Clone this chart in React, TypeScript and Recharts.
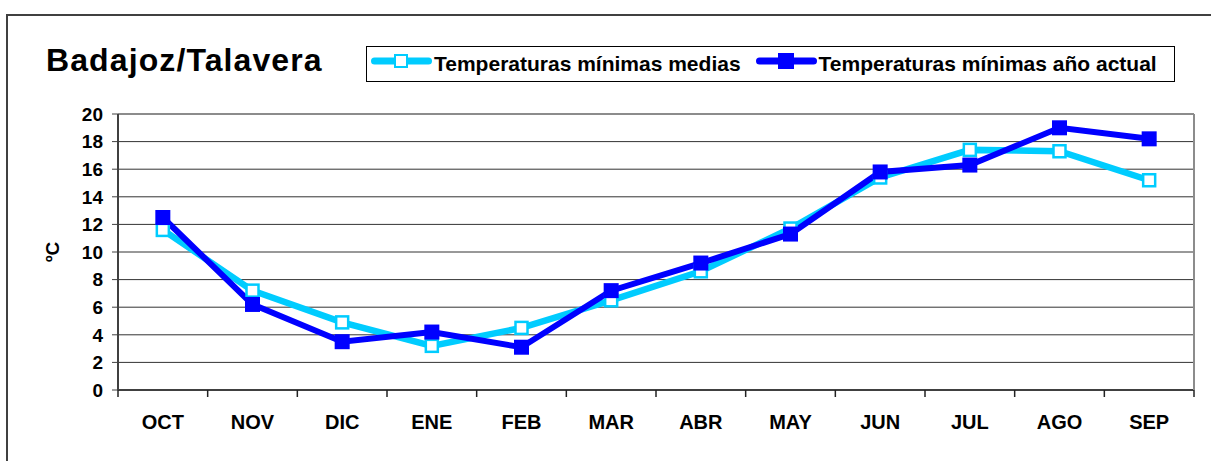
import React from 'react';
import { LineChart, Line, XAxis, YAxis, CartesianGrid, ReferenceLine, Legend } from 'recharts';

const MONTHS = ['OCT', 'NOV', 'DIC', 'ENE', 'FEB', 'MAR', 'ABR', 'MAY', 'JUN', 'JUL', 'AGO', 'SEP'];
const MEDIAS = [11.6, 7.2, 4.9, 3.2, 4.5, 6.5, 8.6, 11.7, 15.4, 17.4, 17.3, 15.2];
const ACTUAL = [12.5, 6.2, 3.5, 4.2, 3.1, 7.2, 9.2, 11.3, 15.8, 16.3, 19.0, 18.2];
const Y_TICKS = [0, 2, 4, 6, 8, 10, 12, 14, 16, 18, 20];
const SERIES_ORDER = ['medias', 'actual'];

const LIGHT = '#00CCFF';
const DARK = '#0000FF';
const FONT = '"Liberation Sans", Arial, sans-serif';
const X_TICK_MARGIN = 25;

const data = MONTHS.map((month, i) => ({ month, medias: MEDIAS[i], actual: ACTUAL[i] }));

// hollow square marker for the long-term average
const HollowSquare = (props: any) => {
  const { cx, cy, index } = props;
  if (cx == null || cy == null) return <g key={index} />;
  return <rect key={index} x={cx - 6} y={cy - 6} width={12} height={12} fill="#fff" stroke={LIGHT} strokeWidth={2.5} />;
};

const FilledSquare = (props: any) => {
  const { cx, cy, index } = props;
  if (cx == null || cy == null) return <g key={index} />;
  return <rect key={index} x={cx - 7.5} y={cy - 7.5} width={15} height={15} fill={DARK} />;
};

// month label plus the Excel-style tick marks sitting between categories
const MonthTick = (props: any) => {
  const { x, y, payload, index, visibleTicksCount } = props;
  const half = payload.offset || 0;
  const axisY = y - X_TICK_MARGIN;
  const last = index === (visibleTicksCount ?? MONTHS.length) - 1;
  return (
    <g>
      <line x1={x - half} x2={x - half} y1={axisY} y2={axisY + 7} stroke="#222" strokeWidth={1.5} />
      {last && <line x1={x + half} x2={x + half} y1={axisY} y2={axisY + 7} stroke="#222" strokeWidth={1.5} />}
      <text x={x} y={y} dy="0.71em" textAnchor="middle" fontSize={20} fontWeight="bold" fill="#000" fontFamily={FONT}>
        {payload.value}
      </text>
    </g>
  );
};

const LegendIcon = ({ color, hollow }: { color: string; hollow: boolean }) => (
  <svg width={61} height={20} style={{ display: 'block', position: 'relative', top: -3 }}>
    <line x1={3.5} y1={10} x2={57.5} y2={10} stroke={color} strokeWidth={7} strokeLinecap="round" />
    {hollow ? (
      <rect x={24} y={4} width={12} height={12} fill="#fff" stroke={color} strokeWidth={2} />
    ) : (
      <rect x={22} y={2} width={16} height={16} fill={color} />
    )}
  </svg>
);

const renderLegend = (props: any) => {
  const items = [...(props.payload || [])].sort(
    (a: any, b: any) => SERIES_ORDER.indexOf(a.dataKey) - SERIES_ORDER.indexOf(b.dataKey)
  );
  return (
    <div
      style={{
        boxSizing: 'border-box',
        width: 809,
        height: 36,
        border: '1px solid #000',
        background: '#fff',
        display: 'flex',
        alignItems: 'center',
        paddingLeft: 4,
        fontFamily: FONT,
        fontWeight: 'bold',
        fontSize: 21,
        color: '#000',
        whiteSpace: 'nowrap',
      }}
    >
      {items.map((item: any, i: number) => (
        <div key={item.value} style={{ display: 'flex', alignItems: 'center', marginLeft: i === 0 ? 0 : 15 }}>
          <LegendIcon color={item.color} hollow={item.dataKey === 'medias'} />
          <span style={{ marginLeft: 2 }}>{item.value}</span>
        </div>
      ))}
    </div>
  );
};

export default function App() {
  return (
    <div
      style={{
        position: 'absolute',
        left: 0,
        top: 0,
        width: 1211,
        height: 461,
        overflow: 'hidden',
        background: '#fff',
        fontFamily: FONT,
      }}
    >
      {/* outer chart frame, runs off the right and bottom edge */}
      <div
        style={{
          position: 'absolute',
          left: 6,
          top: 14,
          width: 1240,
          height: 480,
          border: '2px solid #404040',
        }}
      />
      <div
        style={{
          position: 'absolute',
          left: 46,
          top: 43.6,
          fontSize: 32,
          lineHeight: '32px',
          fontWeight: 'bold',
          letterSpacing: 1.1,
          color: '#000',
          whiteSpace: 'nowrap',
        }}
      >
        Badajoz/Talavera
      </div>
      <div
        style={{
          position: 'absolute',
          left: 53,
          top: 252,
          transform: 'translate(-50%, -50%) rotate(-90deg)',
          fontSize: 19,
          fontWeight: 'bold',
          color: '#000',
          whiteSpace: 'nowrap',
        }}
      >
        ºC
      </div>
      <div style={{ position: 'absolute', left: 0, top: 0 }}>
        <LineChart width={1211} height={461} data={data} margin={{ top: 114, right: 16, bottom: 0, left: 18 }}>
          <CartesianGrid horizontal vertical={false} stroke="#333" strokeWidth={1} />
          <XAxis
            dataKey="month"
            scale="band"
            interval={0}
            height={71}
            tickSize={0}
            tickMargin={X_TICK_MARGIN}
            axisLine={{ stroke: '#404040', strokeWidth: 2 }}
            tickLine={false}
            tick={<MonthTick />}
          />
          <YAxis
            domain={[0, 20]}
            ticks={Y_TICKS}
            interval={0}
            width={100}
            tickSize={6}
            tickMargin={9}
            axisLine={{ stroke: '#404040', strokeWidth: 2 }}
            tickLine={{ stroke: '#404040', strokeWidth: 1 }}
            tick={{ fontSize: 19, fontWeight: 'bold', fill: '#000', fontFamily: FONT }}
          />
          <YAxis
            yAxisId="right"
            orientation="right"
            domain={[0, 20]}
            width={1}
            tick={false}
            tickLine={false}
            axisLine={{ stroke: '#8c8c8c', strokeWidth: 2 }}
          />
          <ReferenceLine y={20} stroke="#8c8c8c" strokeWidth={2} />
          <Legend
            layout="horizontal"
            verticalAlign="middle"
            align="center"
            wrapperStyle={{ left: 366, top: 46, width: 809, height: 36 }}
            content={renderLegend}
          />
          <Line
            dataKey="medias"
            name="Temperaturas mínimas medias"
            stroke={LIGHT}
            strokeWidth={6.5}
            dot={HollowSquare}
            activeDot={false}
            isAnimationActive={false}
          />
          <Line
            dataKey="actual"
            name="Temperaturas mínimas año actual"
            stroke={DARK}
            strokeWidth={6}
            dot={FilledSquare}
            activeDot={false}
            isAnimationActive={false}
          />
        </LineChart>
      </div>
    </div>
  );
}
